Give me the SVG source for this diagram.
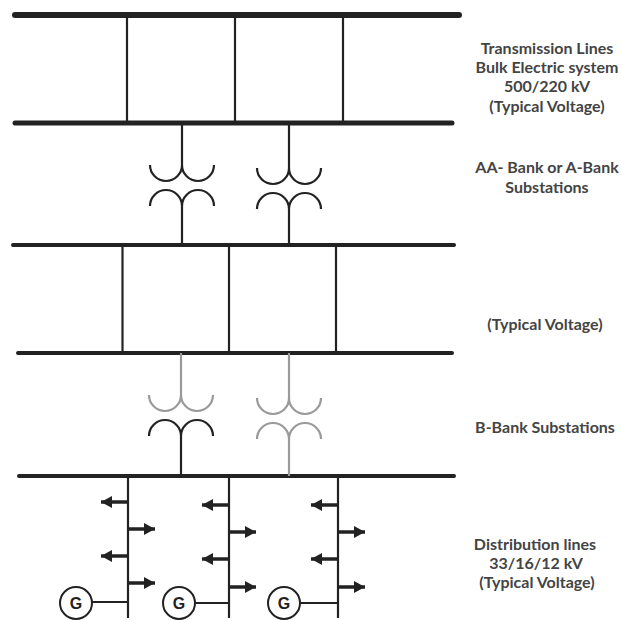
<svg xmlns="http://www.w3.org/2000/svg" width="621" height="620" viewBox="0 0 621 620">
<style>
.bus{stroke:#222;stroke-linecap:round;fill:none}
.v{stroke:#222;stroke-width:2.2;fill:none}
.w{stroke:#222;stroke-width:2.2;fill:none}
.g{stroke:#9a9a9a}
.arr{stroke:#222;stroke-width:3.5;marker-end:url(#ah)}
.lbl{font-family:Lato,"Liberation Sans",sans-serif;font-size:16px;font-weight:bold;fill:#444;text-anchor:middle}
.gen circle{fill:#fff;stroke:#222;stroke-width:2}
.gen text{font-family:"Liberation Sans",sans-serif;font-size:16px;font-weight:bold;fill:#222;text-anchor:middle}
</style>
<defs>
<marker id="ah" markerUnits="userSpaceOnUse" markerWidth="13" markerHeight="13" refX="11" refY="6" orient="auto">
<path d="M0,0 L11,6 L0,12 z" fill="#222"/>
</marker>
</defs>
<rect width="621" height="620" fill="#fff"/>
<g id="connectors">
<line class="bus" x1="15" y1="15" x2="459" y2="15" stroke-width="6"/>
<line class="bus" x1="15" y1="123" x2="452" y2="123" stroke-width="5"/>
<line class="bus" x1="13" y1="245" x2="454" y2="245" stroke-width="4"/>
<line class="bus" x1="18" y1="353" x2="452" y2="353" stroke-width="4"/>
<line class="bus" x1="19" y1="476" x2="454" y2="476" stroke-width="4"/>
<line class="v" x1="127" y1="15" x2="127" y2="123"/>
<line class="v" x1="235" y1="15" x2="235" y2="123"/>
<line class="v" x1="343" y1="15" x2="343" y2="123"/>
<line class="v" x1="122.5" y1="245" x2="122.5" y2="353"/>
<line class="v" x1="229" y1="245" x2="229" y2="353"/>
<line class="v" x1="336" y1="245" x2="336" y2="353"/>
<line class="v" x1="128" y1="476" x2="128" y2="618" stroke-width="3.5"/>
<line class="v" x1="229" y1="476" x2="229" y2="618" stroke-width="3.5"/>
<line class="v" x1="338" y1="476" x2="338" y2="618" stroke-width="3.5"/>
<line class="arr" x1="128" y1="502" x2="101" y2="502"/>
<line class="arr" x1="128" y1="529" x2="155" y2="529"/>
<line class="arr" x1="128" y1="556" x2="101" y2="556"/>
<line class="arr" x1="128" y1="583" x2="155" y2="583"/>
<line class="arr" x1="229" y1="505" x2="202" y2="505"/>
<line class="arr" x1="229" y1="532" x2="256" y2="532"/>
<line class="arr" x1="229" y1="559" x2="202" y2="559"/>
<line class="arr" x1="229" y1="587" x2="256" y2="587"/>
<line class="arr" x1="338" y1="505" x2="311" y2="505"/>
<line class="arr" x1="338" y1="532" x2="365" y2="532"/>
<line class="arr" x1="338" y1="559" x2="311" y2="559"/>
<line class="arr" x1="338" y1="587" x2="365" y2="587"/>
<line class="v" x1="92" y1="602" x2="128" y2="602" stroke-width="2"/>
<line class="v" x1="195" y1="603" x2="229" y2="603" stroke-width="2"/>
<line class="v" x1="300" y1="603" x2="338" y2="603" stroke-width="2"/>
</g>
<g id="aa-bank-1">
<path class="w" d="M182,123 V165 M150,165 A16,16 0 0 0 182,165 A16,16 0 0 0 214,165"/>
<path class="w" d="M182,245 V206 M150,206 A16,16 0 0 1 182,206 A16,16 0 0 1 214,206"/>
</g>
<g id="aa-bank-2">
<path class="w" d="M289,123 V168 M257,168 A16,16 0 0 0 289,168 A16,16 0 0 0 321,168"/>
<path class="w" d="M289,245 V209 M257,209 A16,16 0 0 1 289,209 A16,16 0 0 1 321,209"/>
</g>
<g id="b-bank-1">
<path class="w g" d="M181,353 V395 M149,395 A16,16 0 0 0 181,395 A16,16 0 0 0 213,395"/>
<path class="w" d="M181,476 V436 M149,436 A16,16 0 0 1 181,436 A16,16 0 0 1 213,436"/>
</g>
<g id="b-bank-2">
<path class="w g" d="M289,353 V398 M257,398 A16,16 0 0 0 289,398 A16,16 0 0 0 321,398"/>
<path class="w g" d="M289,476 V439 M257,439 A16,16 0 0 1 289,439 A16,16 0 0 1 321,439"/>
</g>
<g id="gen-1" class="gen"><circle cx="76" cy="603" r="16"/><text x="76" y="609">G</text></g>
<g id="gen-2" class="gen"><circle cx="179" cy="603" r="16"/><text x="179" y="609">G</text></g>
<g id="gen-3" class="gen"><circle cx="284" cy="603" r="16"/><text x="284" y="609">G</text></g>
<g id="label-transmission">
<text class="lbl" x="547" y="54">Transmission Lines</text>
<text class="lbl" x="547" y="73">Bulk Electric system</text>
<text class="lbl" x="547" y="92">500/220 kV</text>
<text class="lbl" x="547" y="112">(Typical Voltage)</text>
</g>
<g id="label-aa-bank">
<text class="lbl" x="547" y="173">AA- Bank or A-Bank</text>
<text class="lbl" x="547" y="193">Substations</text>
</g>
<g id="label-mid">
<text class="lbl" x="545" y="330">(Typical Voltage)</text>
</g>
<g id="label-b-bank">
<text class="lbl" x="545" y="433">B-Bank Substations</text>
</g>
<g id="label-distribution">
<text class="lbl" x="535" y="550">Distribution lines</text>
<text class="lbl" x="536" y="569">33/16/12 kV</text>
<text class="lbl" x="537" y="588">(Typical Voltage)</text>
</g>
</svg>
